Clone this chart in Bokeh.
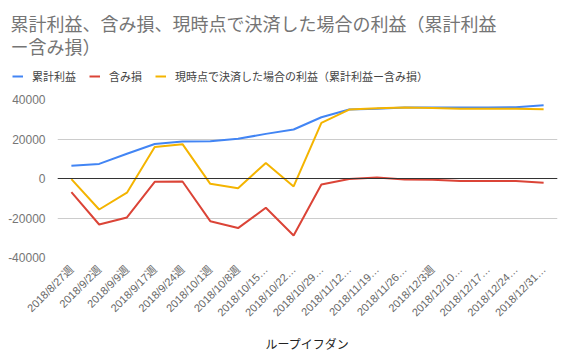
import math
from bokeh.plotting import figure
from bokeh.layouts import column
from bokeh.models import Legend, LegendItem, Span, FactorRange, FixedTicker, Title, NumeralTickFormatter, Range1d
from bokeh.embed import file_html
from bokeh.resources import INLINE

weeks = ["2018/8/27週", "2018/9/2週", "2018/9/9週", "2018/9/17週", "2018/9/24週",
         "2018/10/1週", "2018/10/8週", "2018/10/15…", "2018/10/22…", "2018/10/29…",
         "2018/11/12…", "2018/11/19…", "2018/11/26…", "2018/12/3週", "2018/12/10…",
         "2018/12/17…", "2018/12/24…", "2018/12/31…"]
cumulative = [6500, 7400, 12500, 17500, 18700, 18900, 20100, 22600, 24800, 31000,
              34900, 35300, 35900, 36000, 36000, 36000, 36100, 37100]
unrealized = [-6900, -23300, -19700, -1700, -1500, -21600, -25100, -14800, -28900, -3000,
              -200, 500, -500, -600, -1300, -1300, -1300, -2200]
settled = [-300, -15700, -7200, 16000, 17400, -2700, -4900, 7900, -4000, 28200,
           34900, 35600, 35900, 35700, 35300, 35300, 35300, 35100]
y_ticks = [-40000, -20000, 0, 20000, 40000]

series = [cumulative, unrealized, settled]
series_names = ["累計利益", "含み損", "現時点で決済した場合の利益（累計利益ー含み損）"]
colors = ["#4285F4", "#DB4437", "#F4B400"]
title_text = "累計利益、含み損、現時点で決済した場合の利益（累計利益\nー含み損）"

FONT = "'Liberation Sans', 'Noto Sans CJK JP'"

# header: title + legend (legend glyphs come from the same series, drawn out of view)
head = figure(width=562, height=91, x_range=FactorRange(*weeks, range_padding=0),
              y_range=Range1d(1e6, 2e6), output_backend="svg", toolbar_location=None,
              x_axis_type=None, y_axis_type=None, min_border_left=0, min_border_right=0,
              min_border_top=62, min_border_bottom=0, outline_line_color=None,
              frame_align=False)
head.xgrid.grid_line_color = None
head.ygrid.grid_line_color = None
head_r = [head.line(weeks, vals, line_color=c, line_width=2) for vals, c in zip(series, colors)]
legend = Legend(items=[LegendItem(label=n, renderers=[r]) for n, r in zip(series_names, head_r)],
                orientation="horizontal", location=(12, 7), padding=0, margin=0,
                spacing=13, label_standoff=9, glyph_width=11, glyph_height=10,
                label_text_font_size="11px", label_text_color="#444444",
                label_text_font=FONT, border_line_alpha=0, background_fill_alpha=0)
head.add_layout(legend, "center")
head.title = Title(text=title_text, align="left", offset=10, text_font_size="18px",
                   text_font_style="normal", text_line_height=1.15,
                   text_color="#757575", text_font=FONT)

p = figure(width=562, height=263, x_range=FactorRange(*weeks, range_padding=0),
           y_range=(-40000, 40000), output_backend="svg", toolbar_location=None,
           min_border_left=57, min_border_right=5, min_border_top=8, min_border_bottom=97,
           outline_line_color=None, frame_align=False)

for vals, c in zip(series, colors):
    p.line(weeks, vals, line_color=c, line_width=2)

p.add_layout(Span(location=0, dimension="width", line_color="#333333", line_width=1))

p.yaxis.ticker = FixedTicker(ticks=y_ticks)
p.yaxis.formatter = NumeralTickFormatter(format="0")
p.yaxis.axis_line_color = None
p.yaxis.major_tick_line_color = None
p.yaxis.minor_tick_line_color = None
p.yaxis.major_label_text_font_size = "12px"
p.yaxis.major_label_text_color = "#757575"
p.yaxis.major_label_text_font = FONT
p.yaxis.major_label_standoff = 6

p.xaxis.axis_line_color = None
p.xaxis.major_tick_line_color = None
p.xaxis.major_label_orientation = math.pi / 4
p.xaxis.major_label_text_font_size = "11px"
p.xaxis.major_label_text_color = "#666666"
p.xaxis.major_label_text_font = FONT
p.xaxis.major_label_standoff = 4
p.xaxis.axis_label = "ループイフダン"
p.xaxis.axis_label_text_font_size = "12px"
p.xaxis.axis_label_text_font_style = "normal"
p.xaxis.axis_label_text_color = "#222222"
p.xaxis.axis_label_text_font = FONT
p.xaxis.axis_label_standoff = 12

p.xgrid.grid_line_color = None
p.ygrid.grid_line_color = "#cccccc"

layout = column(head, p, spacing=0)
open("out.html", "w").write(file_html(layout, INLINE))
